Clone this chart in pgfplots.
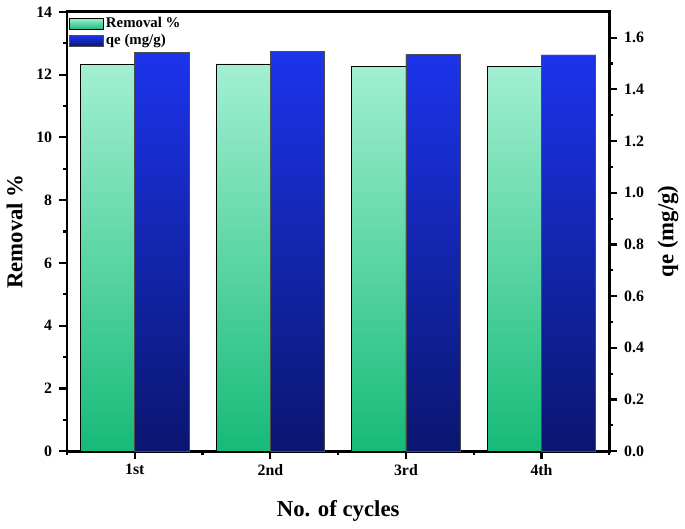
\documentclass[border=0pt]{standalone}
\usepackage{fontspec}
\setmainfont{Liberation Serif}
\usepackage{pgfplots}
\pgfplotsset{compat=1.18}
\usetikzlibrary{patterns.meta}

\definecolor{gtop}{RGB}{162,240,210}
\definecolor{gbot}{RGB}{22,186,120}
\definecolor{btop}{RGB}{28,52,235}
\definecolor{bbot}{RGB}{10,22,112}

\pgfplotsset{
  common/.style={
    width=274pt, height=222pt, scale only axis,
    xmin=0.5, xmax=4.5, ymin=0,
    axis line style={line width=1.4pt},
    tick style={line width=1.1pt, black},
    major tick length=4pt, minor tick length=2pt,
    tick align=outside,
    ticklabel style={font=\fontsize{8}{9}\selectfont\bfseries},
    /pgf/number format/assume math mode=true,
    label style={font=\fontsize{11.5}{13}\selectfont\bfseries},
    ybar, bar width=0.4,
  },
  remstyle/.style={draw=black, line width=0.4pt, top color=gtop, bottom color=gbot,
    postaction={pattern={Dots[distance=1.5pt,radius=0.35pt]}, pattern color=black!45}},
  qestyle/.style={draw=black!70, line width=0.4pt, top color=btop, bottom color=bbot,
    postaction={pattern={Dots[distance=1.5pt,radius=0.35pt]}, pattern color=black!30}},
}

\begin{document}
\begin{tikzpicture}

% left axis: Removal %
\begin{axis}[common,
    ymax=14,
    ytick={0,2,...,14}, minor ytick={1,3,...,13},
    xtick={1,2,3,4}, xticklabels={1st,2nd,3rd,4th},
    minor xtick={0.5,1.5,...,4.5},
    xtick pos=bottom, ytick pos=left,
    xticklabel style={yshift=1pt},
    xlabel={No. of cycles}, ylabel={Removal \%},
    xlabel style={yshift=-6pt},
  ]
  \addplot[remstyle, bar shift=-0.2] coordinates {(1,12.33) (2,12.34) (3,12.27) (4,12.25)};
\end{axis}

% right axis: qe
\begin{axis}[common,
    ymax=1.7,
    axis x line=none, axis y line*=right,
    ytick={0,0.2,...,1.6}, minor ytick={0.1,0.3,...,1.5},
    yticklabel style={/pgf/number format/.cd, fixed, fixed zerofill, precision=1},
    ylabel={qe (mg/g)},
    legend style={at={(0,1)}, anchor=north west, draw=none, fill=none,
      font=\fontsize{7.5}{8}\selectfont\bfseries, row sep=0pt,
      inner xsep=1pt, inner ysep=1.5pt,
      nodes={inner sep=1pt},
      legend cell align=left},
  ]
  \addlegendimage{remstyle, area legend}
  \addlegendentry{Removal \%}
  \addplot[qestyle, area legend, bar shift=0.2] coordinates {(1,1.544) (2,1.545) (3,1.535) (4,1.533)};
  \addlegendentry{qe (mg/g)}
\end{axis}

\end{tikzpicture}
\end{document}
